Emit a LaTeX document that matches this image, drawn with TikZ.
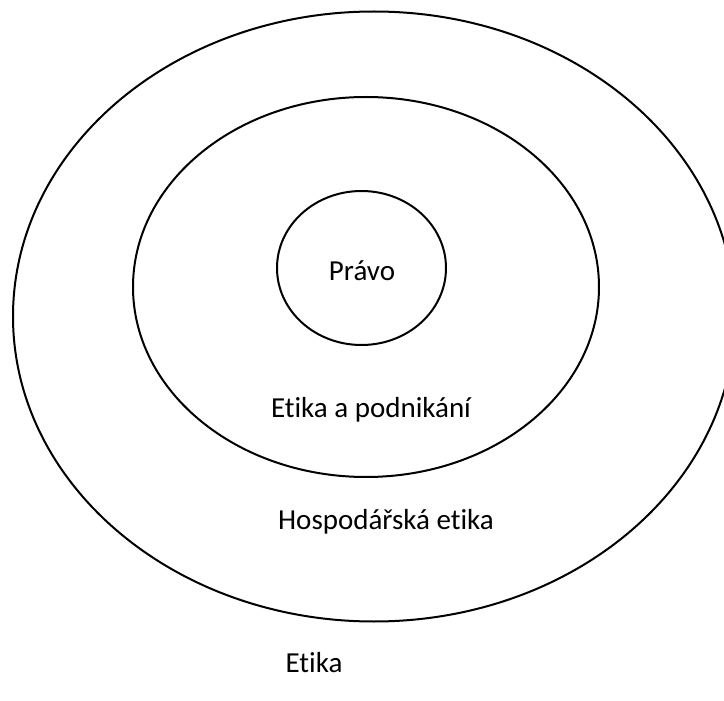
\documentclass[tikz,border=0pt]{standalone}
\usepackage{fontspec}
\setmainfont{Carlito}[Ligatures=NoCommon]
\usepackage{tikz}
\usetikzlibrary{positioning}

\begin{document}
\begin{tikzpicture}[x=0.5pt,y=-0.5pt]
    \tikzset{
        ring/.style={black, line width=1pt},
        lbl/.style={font={\fontsize{14.5pt}{17pt}\selectfont}, anchor=base, inner sep=0pt},
    }
        \useasboundingbox (0,0) rectangle (724,701);

        \draw [ring] (374,316.5) ellipse [x radius=361, y radius=305];
        \draw [ring] (366,287) ellipse [x radius=233, y radius=190];
        \draw [ring] (361.5,268) ellipse [x radius=84.5, y radius=77];

        \node [lbl] (pravo) at (362,280) {Právo};
        \node [lbl] (podnikani) at (371,417) {Etika a podnikání};
        \node [lbl] (hospodarska) at (386,529) {Hospodářská etika};
        \node [lbl] (etika) at (314,672) {Etika};
    \end{tikzpicture}
\end{document}
